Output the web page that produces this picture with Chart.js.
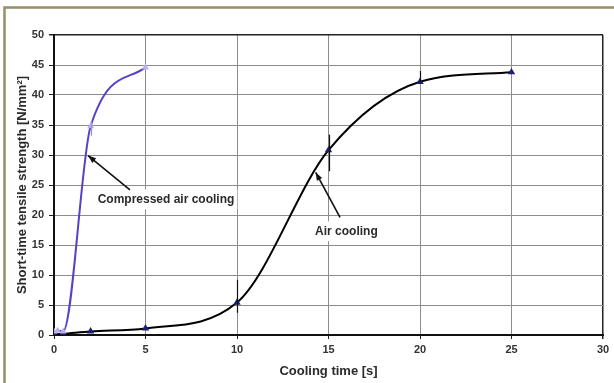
<!DOCTYPE html>
<html><head><meta charset="utf-8">
<script src="https://cdn.jsdelivr.net/npm/chart.js@4/dist/chart.umd.min.js"></script>
<style>html,body{margin:0;padding:0;background:#fff;}#wrap{width:614px;height:383px;position:relative;}</style>
</head><body><div id="wrap"><canvas id="c" width="614" height="383"></canvas></div>
<script>
// ---- data ----
const airTime = [0, 0.5, 2, 5, 10, 15, 20, 25];
const airStrength = [0.1, 0.2, 0.6, 1.1, 5.4, 30.8, 42.2, 43.8];
const airErrLow = [null, null, null, null, 3.7, 27.3, 42.0, null];
const airErrHigh = [null, null, null, null, 9.2, 33.4, 44.0, null];
const compTime = [0, 0.2, 0.5, 2, 5];
const compStrength = [0.6, 0.7, 0.6, 34.8, 44.6];
const compErrLow = [null, null, null, 33.2, null];
const compErrHigh = [null, null, null, 35.6, null];
const xTicks = [0, 5, 10, 15, 20, 25, 30];
const yTicks = [0, 5, 10, 15, 20, 25, 30, 35, 40, 45, 50];
const xTitle = 'Cooling time [s]';
const yTitle = 'Short-time tensile strength [N/mm²]';
const labels = [
  {text: 'Compressed air cooling', x: 6.12, y: 22.6, from: [4.15, 24.2], to: [1.86, 29.9]},
  {text: 'Air cooling', x: 15.98, y: 17.3, from: [15.63, 19.6], to: [14.3, 27.1]}
];

const FONT = "'Liberation Sans', Arial, sans-serif";

const framePlugin = {
  id: 'frame',
  beforeDraw(chart) {
    const c = chart.ctx;
    c.save();
    c.fillStyle = '#fff';
    c.fillRect(0, 0, chart.width, chart.height);
    c.strokeStyle = '#958f6a';
    c.lineWidth = 2.5;
    c.beginPath();
    c.moveTo(4.5, chart.height);
    c.lineTo(4.5, 7.5);
    c.lineTo(chart.width, 7.5);
    c.stroke();
    c.restore();
  }
};

const errPlugin = {
  id: 'errs',
  afterDatasetsDraw(chart) {
    const c = chart.ctx, xs = chart.scales.x, ys = chart.scales.y;
    c.save();
    c.lineWidth = 1.2;
    const draw = (t, lo, hi, col) => {
      c.strokeStyle = col;
      for (let i = 0; i < t.length; i++) {
        if (lo[i] == null) continue;
        const px = Math.round(xs.getPixelForValue(t[i])) + 0.5;
        c.beginPath();
        c.moveTo(px, ys.getPixelForValue(lo[i]));
        c.lineTo(px, ys.getPixelForValue(hi[i]));
        c.stroke();
      }
    };
    draw(airTime, airErrLow, airErrHigh, '#111');
    draw(compTime, compErrLow, compErrHigh, '#9a90e0');
    c.restore();
  }
};

const notePlugin = {
  id: 'notes',
  beforeDatasetsDraw(chart) {
    const c = chart.ctx, xs = chart.scales.x, ys = chart.scales.y;
    c.save();
    c.font = 'bold 12px ' + FONT;
    labels.forEach(l => {
      const w = c.measureText(l.text).width;
      const px = xs.getPixelForValue(l.x), py = ys.getPixelForValue(l.y);
      c.fillStyle = '#fff';
      c.fillRect(px - w / 2 - 3, py - 10, w + 6, 20);
    });
    c.restore();
  },
  afterDatasetsDraw(chart) {
    const c = chart.ctx, xs = chart.scales.x, ys = chart.scales.y;
    c.save();
    c.font = 'bold 12px ' + FONT;
    c.textAlign = 'center';
    c.textBaseline = 'middle';
    labels.forEach(l => {
      const px = xs.getPixelForValue(l.x), py = ys.getPixelForValue(l.y);
      c.fillStyle = '#2a2a2a';
      c.fillText(l.text, px, py);
      const x1 = xs.getPixelForValue(l.from[0]), y1 = ys.getPixelForValue(l.from[1]);
      const x2 = xs.getPixelForValue(l.to[0]), y2 = ys.getPixelForValue(l.to[1]);
      c.strokeStyle = '#111';
      c.lineWidth = 1.6;
      c.beginPath(); c.moveTo(x1, y1); c.lineTo(x2, y2); c.stroke();
      const a = Math.atan2(y2 - y1, x2 - x1), L = 8, W = 3;
      c.fillStyle = '#111';
      c.beginPath();
      c.moveTo(x2, y2);
      c.lineTo(x2 - L * Math.cos(a) + W * Math.sin(a), y2 - L * Math.sin(a) - W * Math.cos(a));
      c.lineTo(x2 - L * Math.cos(a) - W * Math.sin(a), y2 - L * Math.sin(a) + W * Math.cos(a));
      c.closePath(); c.fill();
    });
    c.restore();
  }
};

new Chart(document.getElementById('c'), {
  type: 'scatter',
  data: {
    datasets: [
      {
        label: 'Compressed air cooling',
        data: compTime.map((t, i) => ({x: t, y: compStrength[i]})),
        showLine: true,
        borderColor: '#5a3fc8',
        borderWidth: 2,
        cubicInterpolationMode: 'monotone',
        pointStyle: 'triangle',
        pointRadius: 2,
        pointBackgroundColor: '#b8b0ec',
        pointBorderColor: '#b8b0ec'
      },
      {
        label: 'Air cooling',
        data: airTime.map((t, i) => ({x: t, y: airStrength[i]})),
        showLine: true,
        borderColor: '#000',
        borderWidth: 2,
        cubicInterpolationMode: 'monotone',
        pointStyle: 'triangle',
        pointRadius: 2.3,
        pointBackgroundColor: '#1e1e78',
        pointBorderColor: '#1e1e78'
      }
    ]
  },
  options: {
    responsive: false,
    devicePixelRatio: 1,
    animation: false,
    layout: {padding: {top: 35, right: 11, left: 0, bottom: 0}},
    plugins: {legend: {display: false}, tooltip: {enabled: false}},
    scales: {
      x: {
        type: 'linear', min: 0, max: 30,
        afterBuildTicks: s => { s.ticks = xTicks.map(v => ({value: v})); },
        afterFit: s => { s.height = 48; },
        ticks: {font: {family: FONT, size: 11, weight: 'bold'}, color: '#333', padding: 4, maxRotation: 0},
        grid: {
          color: ctx => (ctx.tick && ctx.tick.value === 30) ? '#222' : '#8c8c8c',
          lineWidth: ctx => (ctx.tick && ctx.tick.value === 30) ? 1.5 : 1,
          tickColor: '#222', tickLength: 4
        },
        border: {color: '#111', width: 2},
        title: {display: true, text: xTitle, font: {family: FONT, size: 13, weight: 'bold'}, color: '#2a2a2a', padding: {top: 2, bottom: 4}}
      },
      y: {
        type: 'linear', min: 0, max: 50,
        afterBuildTicks: s => { s.ticks = yTicks.map(v => ({value: v})); },
        afterFit: s => { s.width = 54; },
        ticks: {font: {family: FONT, size: 11, weight: 'bold'}, color: '#333', padding: 5},
        grid: {
          color: ctx => (ctx.tick && ctx.tick.value === 50) ? '#222' : '#8c8c8c',
          lineWidth: ctx => (ctx.tick && ctx.tick.value === 50) ? 1.5 : 1,
          tickColor: '#222', tickLength: 5
        },
        border: {color: '#111', width: 2},
        title: {display: true, text: yTitle, font: {family: FONT, size: 13, weight: 'bold'}, color: '#2a2a2a', padding: {top: 15, bottom: 2}}
      }
    }
  },
  plugins: [framePlugin, notePlugin, errPlugin]
});
</script>
</body></html>
